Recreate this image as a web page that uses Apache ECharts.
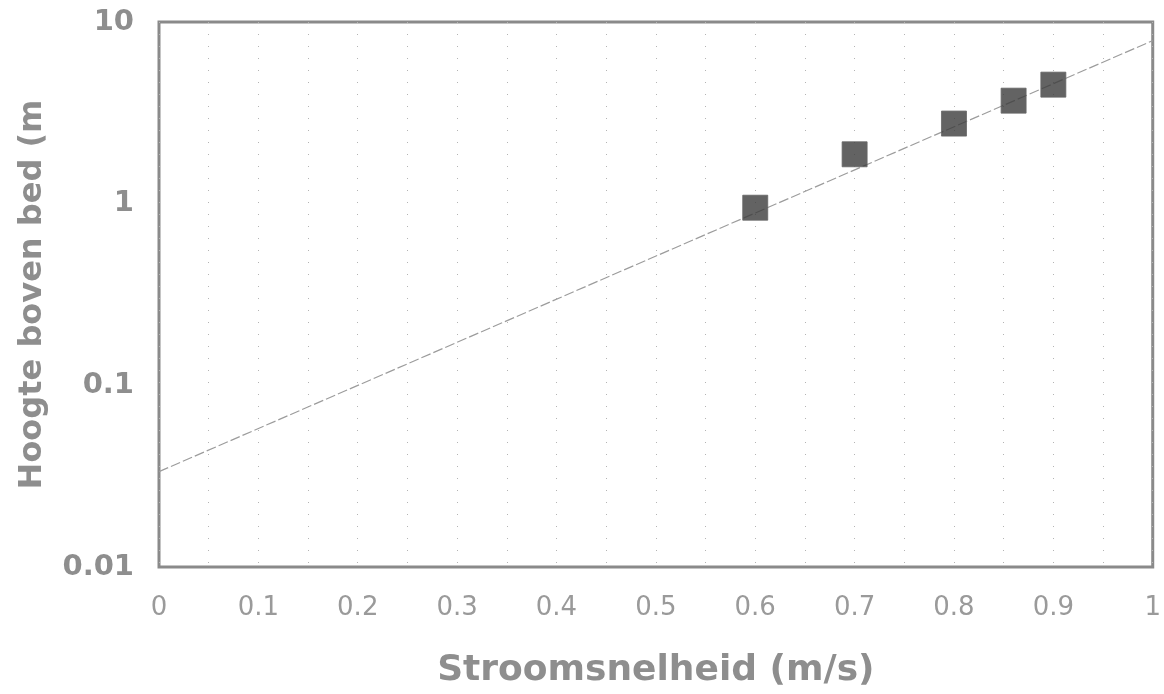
<!DOCTYPE html>
<html>
<head>
<meta charset="utf-8">
<script src="https://cdn.jsdelivr.net/npm/echarts@6/dist/echarts.min.js"></script>
<style>
  html, body { margin: 0; padding: 0; background: #ffffff; }
  #chart { width: 1164px; height: 694px; }
</style>
</head>
<body>
<div id="chart"></div>
<script>
// measured points (speed m/s, height above bed m)
const speeds = [0.6, 0.7, 0.8, 0.86, 0.9];
const heights = [0.95, 1.87, 2.76, 3.69, 4.52];

// fitted trend line, read at the two ends of the plot
const trendX = [0, 1];
const trendY = [0.0335, 7.9];

const yTickLabels = { 0.01: "0.01", 0.1: "0.1", 1: "1", 10: "10" };

const GRAY = "#8e8e8e";
const FONT = "DejaVu Sans";

const chart = echarts.init(document.getElementById("chart"));

chart.setOption({
  backgroundColor: "#ffffff",
  animation: false,
  grid: {
    left: 159,
    right: 6,
    top: 22,
    bottom: 124,
    show: true,
    borderColor: "#8a8a8a",
    borderWidth: 3,
    backgroundColor: "transparent"
  },
  xAxis: {
    type: "value",
    min: 0,
    max: 1,
    interval: 0.05,
    name: "Stroomsnelheid (m/s)",
    nameLocation: "middle",
    nameGap: 86,
    nameTextStyle: {
      color: GRAY,
      fontFamily: FONT,
      fontWeight: "bold",
      fontSize: 36
    },
    axisLine: { show: false },
    axisTick: { show: false },
    axisLabel: {
      margin: 28,
      color: "#9a9a9a",
      fontFamily: FONT,
      fontSize: 26,
      formatter(value) {
        const hundredths = Math.round(value * 100);
        if (hundredths % 10 !== 0) {
          return "";
        }
        return String(hundredths / 100);
      }
    },
    splitLine: {
      show: true,
      lineStyle: {
        color: "#b4b4b4",
        width: 1,
        type: [1, 11]
      }
    }
  },
  yAxis: {
    type: "log",
    logBase: 10,
    min: 0.01,
    max: 10,
    name: "Hoogte boven bed (m",
    nameLocation: "middle",
    nameGap: 110,
    nameRotate: 90,
    nameTextStyle: {
      color: GRAY,
      fontFamily: FONT,
      fontWeight: "bold",
      fontSize: 32
    },
    axisLine: { show: false },
    axisTick: { show: false },
    axisLabel: {
      margin: 25,
      color: GRAY,
      fontFamily: FONT,
      fontWeight: "bold",
      fontSize: 29,
      formatter(value) {
        const key = Number(value.toPrecision(3));
        return yTickLabels[key] || "";
      }
    },
    splitLine: { show: false }
  },
  series: [
    {
      name: "trend",
      type: "line",
      data: trendX.map((x, i) => [x, trendY[i]]),
      symbol: "none",
      silent: true,
      lineStyle: {
        color: "#9c9c9c",
        width: 1.2,
        type: [10, 3]
      },
      z: 2
    },
    {
      name: "metingen",
      type: "scatter",
      data: speeds.map((x, i) => [x, heights[i]]),
      symbol: "rect",
      symbolSize: 25,
      itemStyle: {
        color: "#3c3c3c",
        borderColor: "#666666",
        borderWidth: 1
      },
      z: 3
    }
  ]
});
</script>
</body>
</html>
